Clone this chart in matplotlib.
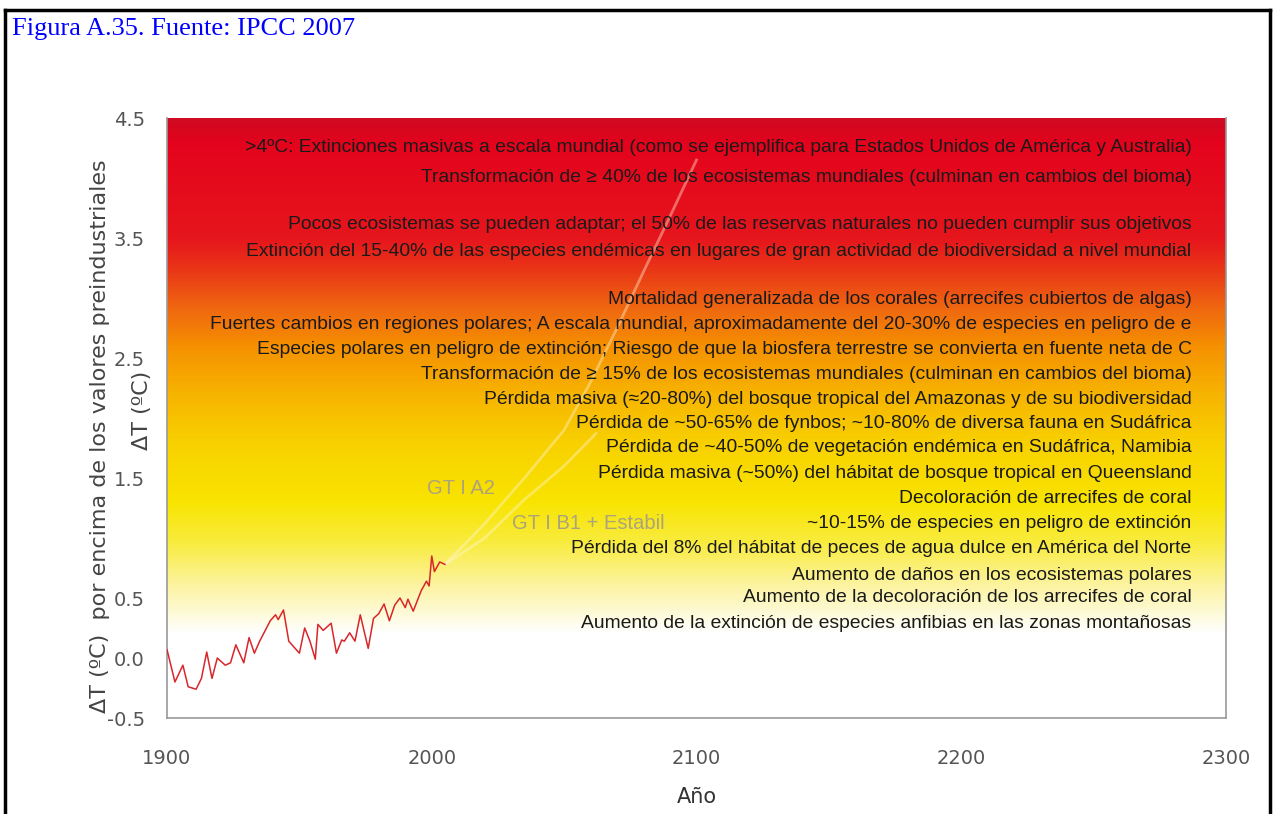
import matplotlib
matplotlib.use("Agg")
from matplotlib import pyplot as plt
from matplotlib.colors import LinearSegmentedColormap
from matplotlib.lines import Line2D
import numpy as np

# observed temperature (deg C above preindustrial)
hist_years = [1900, 1903, 1906, 1908, 1911, 1913, 1915, 1917, 1919, 1922, 1924, 1926,
              1929, 1931, 1933, 1935, 1939, 1941, 1942, 1944, 1946, 1950, 1952, 1954,
              1956, 1957, 1959, 1962, 1964, 1966, 1967, 1969, 1971, 1973, 1976, 1978,
              1980, 1982, 1984, 1986, 1988, 1990, 1991, 1993, 1996, 1998, 1999, 2000,
              2001, 2003, 2005]
hist_temp = [0.07, -0.20, -0.06, -0.24, -0.26, -0.17, 0.05, -0.17, 0.00, -0.06, -0.04, 0.11,
             -0.04, 0.17, 0.04, 0.14, 0.31, 0.36, 0.32, 0.40, 0.14, 0.04, 0.25, 0.14,
             -0.01, 0.28, 0.23, 0.29, 0.04, 0.15, 0.14, 0.21, 0.14, 0.36, 0.08, 0.33,
             0.37, 0.45, 0.31, 0.44, 0.50, 0.42, 0.49, 0.39, 0.56, 0.64, 0.60, 0.85,
             0.72, 0.80, 0.78]

# scenario projections
a2_years = [2005, 2020, 2035, 2050, 2060, 2070, 2080, 2090, 2100]
a2_temp = [0.78, 1.12, 1.50, 1.90, 2.30, 2.75, 3.22, 3.68, 4.15]
b1_years = [2005, 2020, 2035, 2050, 2062]
b1_temp = [0.78, 1.00, 1.32, 1.60, 1.87]

# impacts and the warming level where they appear
impact_labels = [
    ">4ºC: Extinciones masivas a escala mundial (como se ejemplifica para Estados Unidos de América y Australia)",
    "Transformación de ≥ 40% de los ecosistemas mundiales (culminan en cambios del bioma)",
    "Pocos ecosistemas se pueden adaptar; el 50% de las reservas naturales no pueden cumplir sus objetivos",
    "Extinción del 15-40% de las especies endémicas en lugares de gran actividad de biodiversidad a nivel mundial",
    "Mortalidad generalizada de los corales (arrecifes cubiertos de algas)",
    "Fuertes cambios en regiones polares; A escala mundial, aproximadamente del 20-30% de especies en peligro de e",
    "Especies polares en peligro de extinción; Riesgo de que la biosfera terrestre se convierta en fuente neta de C",
    "Transformación de ≥ 15% de los ecosistemas mundiales (culminan en cambios del bioma)",
    "Pérdida masiva (≈20-80%) del bosque tropical del Amazonas y de su biodiversidad",
    "Pérdida de ~50-65% de fynbos; ~10-80% de diversa fauna en Sudáfrica",
    "Pérdida de ~40-50% de vegetación endémica en Sudáfrica, Namibia",
    "Pérdida masiva (~50%) del hábitat de bosque tropical en Queensland",
    "Decoloración de arrecifes de coral",
    "~10-15% de especies en peligro de extinción",
    "Pérdida del 8% del hábitat de peces de agua dulce en América del Norte",
    "Aumento de daños en los ecosistemas polares",
    "Aumento de la decoloración de los arrecifes de coral",
    "Aumento de la extinción de especies anfibias en las zonas montañosas",
]
impact_levels = [4.25, 4.00, 3.61, 3.39, 2.99, 2.78, 2.57, 2.36, 2.15, 1.95,
                 1.75, 1.54, 1.33, 1.12, 0.91, 0.69, 0.50, 0.29]

y_ticks = [-0.5, 0.0, 0.5, 1.5, 2.5, 3.5, 4.5]
x_ticks = [1900, 2000, 2100, 2200, 2300]

plt.rcParams['font.family'] = ['Liberation Sans', 'DejaVu Sans']

fig = plt.figure(figsize=(12.73, 8.14), dpi=100)
W, H = 1273, 814
ax = fig.add_axes([167 / W, 1 - 718 / H, (1226 - 167) / W, (718 - 118) / H])

# background: red at the top fading to white near zero
grad_stops = [(-0.5, '#ffffff'), (0.2, '#ffffff'), (0.6, '#fcf3a0'), (0.95, '#f9ec40'),
              (1.3, '#f8e400'), (1.8, '#f8d000'), (2.2, '#f7b400'), (2.6, '#f59000'),
              (2.9, '#f06a10'), (3.2, '#ea3c16'), (3.5, '#e6161c'), (4.3, '#e4031c'),
              (4.5, '#d00a22')]
cmap = LinearSegmentedColormap.from_list(
    'warm', [((v + 0.5) / 5.0, c) for v, c in grad_stops])
grad = np.linspace(-0.5, 4.5, 600).reshape(-1, 1)
ax.imshow(grad, extent=[1900, 2300, -0.5, 4.5], origin='lower', aspect='auto',
          cmap=cmap, vmin=-0.5, vmax=4.5, zorder=0)

ax.plot(hist_years, hist_temp, color='#d8262a', lw=1.1, zorder=3)
ax.plot(a2_years, a2_temp, color='#fff6d8', lw=2, alpha=0.4, zorder=2)
ax.plot(b1_years, b1_temp, color='#fff6d8', lw=2, alpha=0.4, zorder=2)

ax.text(2011, 1.41, "GT I A2", color='#aaa37c', fontsize=14.5, ha='center', va='center')
ax.text(2059, 1.12, "GT I B1 + Estabil", color='#aaa37c', fontsize=14.5, ha='center', va='center')

for label, lvl in zip(impact_labels, impact_levels):
    ax.text(2287, lvl, label, color='#1a1a1a', fontsize=13.9, ha='right', va='center', zorder=4)

ax.set_xlim(1900, 2300)
ax.set_ylim(-0.5, 4.5)
ax.set_xticks(x_ticks)
ax.set_yticks(y_ticks)
ax.set_yticklabels(['-0.5', '0.0', '0.5', '1.5', '2.5', '3.5', '4.5'])
ax.tick_params(axis='x', length=0, pad=22, labelsize=14, labelcolor='#555555')
ax.tick_params(axis='y', length=0, pad=16, labelsize=14, labelcolor='#555555')
for lab in ax.get_xticklabels() + ax.get_yticklabels():
    lab.set_family('DejaVu Sans')

ax.spines['top'].set_visible(False)
for s in ['left', 'bottom', 'right']:
    ax.spines[s].set_color('#9a9a9a')
    ax.spines[s].set_linewidth(1.2)

ax.set_xlabel("Año", fontsize=15, color='#333333', family='DejaVu Sans', labelpad=14)

fig.text(142 / W, 1 - 410 / H, "ΔT (ºC)", rotation=90, fontsize=16, color='#444444',
         ha='center', va='center', family='DejaVu Sans')
fig.text(100 / W, 1 - 436 / H, "ΔT (ºC)  por encima de los valores preindustriales",
         rotation=90, fontsize=16, color='#444444', ha='center', va='center',
         family='DejaVu Sans')

fig.text(12 / W, 1 - 29 / H, "Figura A.35. Fuente: IPCC 2007", color='#0000ff',
         fontsize=19, family='Liberation Serif', ha='left', va='center')

# page frame
fig.add_artist(Line2D([5 / W, 1270 / W], [1 - 10 / H, 1 - 10 / H], color='black', lw=2.5))
fig.add_artist(Line2D([5 / W, 5 / W], [0, 1 - 10 / H], color='black', lw=2.5))
fig.add_artist(Line2D([1270 / W, 1270 / W], [0, 1 - 10 / H], color='black', lw=2.5))

fig.savefig("out.png", dpi=100)
